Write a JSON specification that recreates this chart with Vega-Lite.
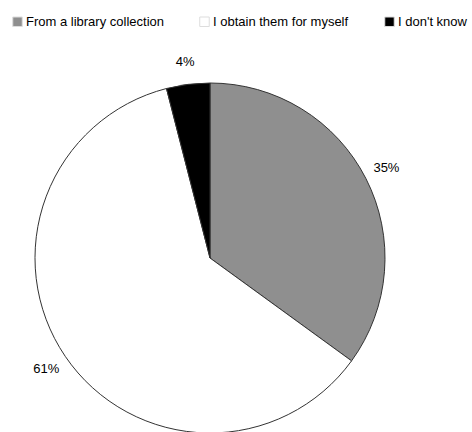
{
  "$schema": "https://vega.github.io/schema/vega-lite/v6.json",
  "width": 420,
  "height": 350,
  "autosize": "none",
  "padding": {"left": 0, "top": 83, "right": 52, "bottom": 0},
  "background": "white",
  "config": {"view": {"stroke": null}, "font": "Liberation Sans"},
  "data": {
    "values": [
      {"answer": "From a library collection", "share": 0.35, "order": 1},
      {"answer": "I obtain them for myself", "share": 0.61, "order": 2},
      {"answer": "I don't know", "share": 0.04, "order": 3}
    ]
  },
  "encoding": {
    "theta": {"field": "share", "type": "quantitative", "stack": true},
    "order": {"field": "order", "type": "quantitative"}
  },
  "layer": [
    {
      "mark": {"type": "arc", "radius": 175, "stroke": "#333333", "strokeWidth": 1},
      "encoding": {
        "color": {
          "field": "answer",
          "type": "nominal",
          "sort": ["From a library collection", "I obtain them for myself", "I don't know"],
          "scale": {
            "domain": ["From a library collection", "I obtain them for myself", "I don't know"],
            "range": ["#8f8f8f", "#ffffff", "#000000"]
          },
          "legend": {
            "title": null,
            "orient": "none",
            "direction": "horizontal",
            "legendX": 11,
            "legendY": -68,
            "padding": 0,
            "symbolType": "square",
            "symbolSize": 90,
            "symbolStrokeColor": "#dddddd",
            "symbolStrokeWidth": 1,
            "labelFont": "Liberation Sans",
            "labelFontSize": 13,
            "labelColor": "#000000",
            "labelOffset": 2,
            "columnPadding": 33,
            "labelLimit": 300
          }
        }
      }
    },
    {
      "mark": {"type": "text", "radius": 198, "fontSize": 13, "font": "Liberation Sans", "color": "#000000", "align": "center", "baseline": "middle"},
      "encoding": {
        "text": {"field": "share", "type": "quantitative", "format": ".0%"}
      }
    }
  ]
}
